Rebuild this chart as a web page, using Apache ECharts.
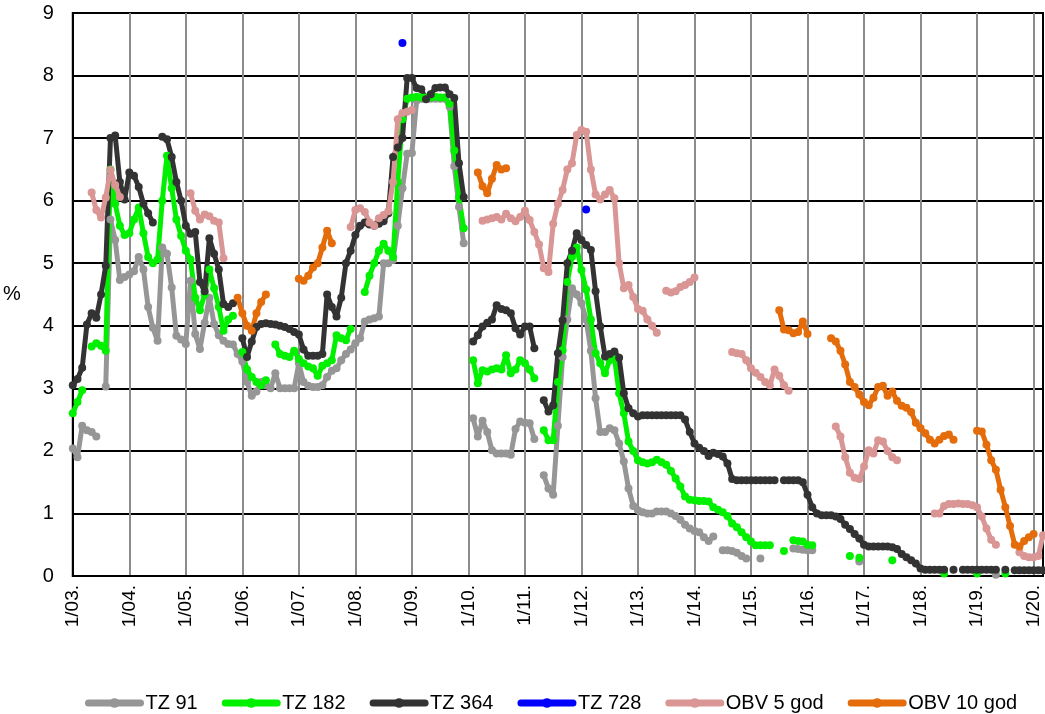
<!DOCTYPE html>
<html>
<head>
<meta charset="utf-8">
<script src="https://cdn.jsdelivr.net/npm/echarts@6/dist/echarts.min.js"></script>
<style>
  html, body { margin: 0; padding: 0; background: #fff; }
  #chart { width: 1045px; height: 714px; }
</style>
</head>
<body>
<div id="chart"></div>
<script>
// months 1/2003 .. 3/2020
var months = [];
for (var y = 2003; y <= 2020; y++) {
	for (var m = 1; m <= 12; m++) {
		if (y == 2020 && m > 3) break;
		months.push(y + '-' + (m < 10 ? '0' + m : m));
	}
}

var tz91 = [
	2.04, 1.9, 2.4, 2.33, 2.3, 2.23, null, 3.03, 5.7, 5.37, 4.73, 4.78,
	4.82, 4.87, 5.1, 4.9, 4.3, 3.97, 3.76, 5.25, 5.15, 4.61, 3.84, 3.78,
	3.71, 4.72, 3.87, 3.63, 4.05, 4.45, 4.03, 3.85, 3.76, 3.71, 3.7, 3.55,
	3.43, 3.1, 2.88, 2.95, 3.1, 3.05, 3.0, 3.24, 3.0, 3.0, 3.0, 3.0,
	3.4, 3.1, 3.04, 3.02, 3.02, 3.05, 3.18, 3.28, 3.32, 3.45, 3.55, 3.62,
	3.72, 3.8, 4.07, 4.1, 4.12, 4.15, 5.0, 5.0, 5.05, 5.6, 6.2, 6.75,
	6.76, 7.6, 7.63, 7.63, 7.63, 7.63, 7.63, 7.63, 7.5, 6.55, 5.9, 5.32,
	null, 2.52, 2.23, 2.48, 2.3, 2.01, 1.96, 1.96, 1.96, 1.94, 2.35, 2.47,
	2.45, 2.44, 2.19, null, 1.61, 1.4, 1.3, 2.4, 3.5, 4.1, 4.6, 4.5,
	4.36, 4.1, 3.6, 2.84, 2.3, 2.3, 2.36, 2.33, 2.12, 1.83, 1.4, 1.12,
	1.05, 1.02, 1.0, 1.0, 1.03, 1.03, 1.03, 1.0, 0.96, 0.9, 0.82, 0.76,
	0.72, 0.7, 0.62, 0.56, 0.63, null, 0.41, 0.41, 0.4, 0.37, 0.32, 0.28,
	null, null, 0.28, null, null, null, null, null, null, 0.44, 0.43, 0.42,
	0.41, 0.41, null, null, null, null, null, null, null, null, null, 0.23,
	null, null, null, null, null, null, null, null, null, null, null, null,
	null, null, null, null, null, null, null, null, null, null, null, null,
	null, null, null, null, 0.02, null, null, null, null, null, null, null,
	null, null, null
];

var tz182 = [
	2.6, 2.78, 2.97, null, 3.67, 3.72, 3.68, 3.6, 6.5, 5.95, 5.6, 5.45,
	5.48, 5.7, 5.89, 5.48, 5.1, 5.0, 5.06, 6.0, 6.72, 6.2, 5.7, 5.44,
	5.2, 5.06, 4.45, 4.25, 4.5, 4.9, 4.6, 4.3, 3.92, 4.1, 4.16, null,
	3.58, 3.3, 3.18, 3.1, 3.05, 3.13, null, 3.7, 3.55, 3.52, 3.5, 3.6,
	3.47, 3.4, 3.35, 3.32, 3.2, 3.36, 3.4, 3.45, 3.85, 3.8, 3.77, 3.95,
	null, null, 4.54, 4.8, 5.0, 5.2, 5.31, 5.2, 5.1, 6.3, 7.3, 7.63,
	7.65, 7.66, 7.65, 7.65, 7.65, 7.66, 7.65, 7.65, 7.55, 6.8, 6.05, 5.56,
	null, 3.45, 3.08, 3.29, 3.27, 3.3, 3.32, 3.3, 3.53, 3.24, 3.3, 3.45,
	3.4, 3.3, 3.16, null, 2.33, 2.17, 2.17, 3.1, 3.61, 4.7, 5.1, 5.25,
	4.89, 4.58, 4.1, 3.56, 3.4, 3.24, 3.45, 3.5, 2.92, 2.6, 2.15, 2.0,
	1.85, 1.82, 1.8, 1.82, 1.86, 1.82, 1.78, 1.68, 1.56, 1.43, 1.27, 1.22,
	1.21, 1.2, 1.2, 1.19, 1.1, 1.06, 1.02, 0.96, 0.84, 0.78, 0.7, 0.62,
	0.55, 0.49, 0.49, 0.49, 0.49, null, null, 0.4, null, 0.57, 0.56, 0.55,
	0.5, 0.49, null, null, null, null, null, null, null, 0.32, null, 0.29,
	null, null, null, null, null, null, 0.25, null, null, null, null, null,
	null, null, null, null, null, 0.04, null, null, null, null, null, null,
	0.04, null, null, null, null, null, 0.04, null, null, null, null, null,
	null, null, null
];

var tz364 = [
	3.05, 3.15, 3.33, 4.02, 4.2, 4.13, 4.5, 4.96, 7.0, 7.04, 6.3, 6.02,
	6.45, 6.4, 6.22, 5.95, 5.8, 5.65, null, 7.02, 6.98, 6.7, 6.3, 6.0,
	5.6, 5.47, 5.5, 4.7, 4.55, 5.4, 5.15, 4.9, 4.35, 4.3, 4.36, null,
	3.8, 3.5, 3.75, 3.98, 4.03, 4.04, 4.03, 4.02, 4.0, 3.98, 3.95, 3.9,
	3.86, 3.62, 3.52, 3.52, 3.52, 3.55, 4.5, 4.3, 4.15, 4.45, 5.0, 5.2,
	5.45, 5.6, 5.65, 5.62, 5.6, 5.63, 5.67, 5.8, 6.7, 6.85, 7.0, 7.96,
	7.96, 7.8, 7.78, 7.62, 7.7, 7.8, 7.81, 7.81, 7.7, 7.64, 6.6, 6.06,
	null, 3.75, 3.85, 3.99, 4.05, 4.1, 4.33, 4.27, 4.25, 4.2, 3.96, 3.86,
	3.99, 3.99, 3.64, null, 2.81, 2.63, 2.73, 3.56, 4.09, 5.0, 5.2, 5.48,
	5.37, 5.29, 5.21, 4.55, 3.99, 3.51, 3.55, 3.59, 3.49, 2.92, 2.68, 2.6,
	2.55, 2.57, 2.57, 2.57, 2.57, 2.57, 2.57, 2.57, 2.57, 2.57, 2.5, 2.3,
	2.12, 2.05, 2.0, 1.92, 1.97, 1.95, 1.91, 1.8, 1.55, 1.53, 1.53, 1.53,
	1.53, 1.53, 1.53, 1.53, 1.53, 1.53, null, 1.53, 1.53, 1.53, 1.53, 1.5,
	1.3, 1.1, 1.0, 0.97, 0.97, 0.97, 0.95, 0.91, 0.82, 0.75, 0.67, 0.6,
	0.5, 0.47, 0.47, 0.47, 0.47, 0.47, 0.46, 0.43, 0.35, 0.3, 0.25, 0.2,
	0.12, 0.1, 0.1, 0.1, 0.1, 0.1, null, 0.1, null, 0.1, 0.1, 0.1,
	0.1, 0.1, 0.1, 0.1, 0.1, null, 0.1, null, 0.09, 0.09, 0.09, 0.09,
	0.09, 0.09, 0.09
];

var tz728 = [];
for (var i = 0; i < months.length; i++) tz728.push(null);
tz728[70] = 8.52;
tz728[109] = 5.86;

var obv5 = [
	null, null, null, null, 6.13, 5.85, 5.73, 6.05, 6.49, 6.25, 6.06, null,
	null, null, null, null, null, null, null, null, null, null, null, null,
	null, 6.12, 5.84, 5.7, 5.78, 5.75, 5.68, 5.65, 5.08, null, null, null,
	null, null, null, null, null, null, null, null, null, null, null, null,
	null, null, null, null, null, null, null, null, null, null, null, 5.58,
	5.85, 5.88, 5.82, 5.65, 5.6, 5.72, 5.77, 5.83, 6.3, 7.3, 7.4, 7.42,
	7.45, null, null, null, null, null, null, null, null, null, null, null,
	null, null, null, 5.68, 5.7, 5.72, 5.74, 5.7, 5.79, 5.72, 5.67, 5.74,
	5.84, 5.69, 5.5, 5.3, 4.92, 4.86, 5.63, 5.95, 6.17, 6.5, 6.6, 7.05,
	7.13, 7.1, 6.5, 6.1, 6.02, 6.1, 6.17, 6.04, 5.0, 4.6, 4.65, 4.46,
	4.27, 4.24, 4.1, 4.0, 3.89, null, 4.56, 4.53, 4.55, 4.62, 4.65, 4.7,
	4.77, null, null, null, null, null, null, null, 3.58, 3.56, 3.55, 3.45,
	3.32, 3.25, 3.18, 3.1, 3.05, 3.3, 3.2, 3.05, 2.96, null, null, null,
	null, null, null, null, null, null, 2.39, 2.23, 1.9, 1.65, 1.57, 1.55,
	1.75, 2.01, 1.96, 2.17, 2.15, 2.0, 1.9, 1.85, null, null, null, null,
	null, null, null, 1.0, 1.0, 1.12, 1.15, 1.15, 1.16, 1.15, 1.15, 1.13,
	1.1, 0.95, 0.76, 0.58, 0.5, null, null, null, null, 0.38, 0.32, 0.3,
	0.3, 0.32, 0.65
];

var obv10 = [
	null, null, null, null, null, null, null, null, null, null, null, null,
	null, null, null, null, null, null, null, null, null, null, null, null,
	null, null, null, null, null, null, null, null, null, null, null, 4.45,
	4.2, 4.0, 3.92, 4.2, 4.38, 4.5, null, null, null, null, null, null,
	4.75, 4.72, 4.8, 4.93, 5.0, 5.25, 5.52, 5.32, null, null, null, null,
	null, null, null, null, null, null, null, null, null, null, null, null,
	null, null, null, null, null, null, null, null, null, null, null, null,
	null, null, 6.45, 6.23, 6.12, 6.35, 6.57, 6.5, 6.52, null, null, null,
	null, null, null, null, null, null, null, null, null, null, null, null,
	null, null, null, null, null, null, null, null, null, null, null, null,
	null, null, null, null, null, null, null, null, null, null, null, null,
	null, null, null, null, null, null, null, null, null, null, null, null,
	null, null, null, null, null, null, 4.25, 3.94, 3.93, 3.88, 3.9, 4.07,
	3.87, null, null, null, null, 3.8, 3.75, 3.6, 3.38, 3.1, 3.02, 2.9,
	2.78, 2.73, 2.85, 3.02, 3.04, 2.88, 2.95, 2.8, 2.72, 2.69, 2.62, 2.45,
	2.36, 2.28, 2.18, 2.12, 2.18, 2.24, 2.26, 2.18, null, null, null, null,
	2.32, 2.31, 2.1, 1.85, 1.7, 1.38, 1.1, 0.8, 0.5, 0.47, 0.56, 0.62,
	0.67, null, null
];

var fontName = '"Liberation Sans", Arial, sans-serif';

function yearTick(index) {
	return index % 12 === 0;
}

function lineSerie(name, data, color) {
	return {
		name: name,
		type: 'line',
		data: data,
		symbol: 'circle',
		symbolSize: 8,
		showSymbol: true,
		showAllSymbol: true,
		connectNulls: false,
		lineStyle: { color: color, width: 5, join: 'round', cap: 'round' },
		itemStyle: { color: color },
		emphasis: { disabled: true }
	};
}

var myChart = echarts.init(document.getElementById('chart'));

var option = {
	animation: false,
	backgroundColor: '#fff',
	textStyle: { fontFamily: fontName },
	grid: {
		left: 72, right: 2, top: 13, bottom: 138,
		show: true, borderColor: '#000', borderWidth: 2
	},
	legend: {
		left: 80, top: 688,
		itemWidth: 52, itemHeight: 12, itemGap: 24,
		lineStyle: { width: 7, cap: 'round' },
		textStyle: { fontSize: 20, color: '#000', fontFamily: fontName },
		data: ['TZ 91', 'TZ 182', 'TZ 364', 'TZ 728', 'OBV 5 god', 'OBV 10 god']
	},
	xAxis: {
		type: 'category',
		data: months,
		boundaryGap: false,
		axisLine: { lineStyle: { color: '#000', width: 2 } },
		axisTick: { show: false },
		axisLabel: {
			interval: yearTick,
			rotate: 90,
			margin: 9,
			fontSize: 19,
			color: '#000',
			fontFamily: fontName,
			formatter: function(v) { return '1/' + v.substr(2, 2) + '.'; }
		},
		splitLine: { show: true, interval: yearTick, lineStyle: { color: '#8c8c8c', width: 2 } }
	},
	yAxis: {
		type: 'value',
		min: 0, max: 9, interval: 1,
		name: '%',
		nameLocation: 'middle',
		nameRotate: 0,
		nameGap: 52,
		nameTextStyle: { fontSize: 20, color: '#000', fontFamily: fontName },
		axisLine: { show: true, lineStyle: { color: '#000', width: 2 } },
		axisTick: { show: false },
		axisLabel: { fontSize: 20, color: '#000', margin: 19, fontFamily: fontName },
		splitLine: { lineStyle: { color: '#000', width: 2 } }
	},
	series: [
		lineSerie('TZ 91', tz91, '#969696'),
		lineSerie('TZ 182', tz182, '#00f000'),
		lineSerie('TZ 364', tz364, '#333333'),
		lineSerie('TZ 728', tz728, '#0000ff'),
		lineSerie('OBV 5 god', obv5, '#d99694'),
		lineSerie('OBV 10 god', obv10, '#e46c0a')
	]
};

myChart.setOption(option);
</script>
</body>
</html>
